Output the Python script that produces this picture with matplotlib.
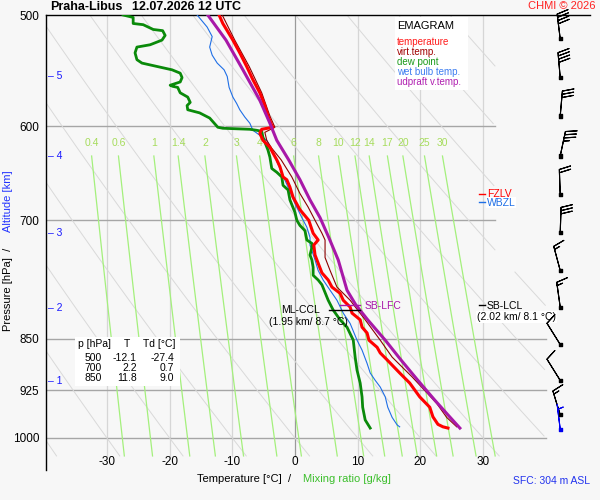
import numpy as np
import matplotlib.pyplot as plt
from matplotlib.patches import Rectangle
from matplotlib.ticker import NullLocator

plt.rcParams['font.family'] = ['Liberation Sans', 'DejaVu Sans']

# ---- sounding Praha-Libus, 12.07.2026 12 UTC ----
temp_p = [500, 507, 521, 532, 544, 556, 568, 580, 590, 599, 601, 603, 607, 614, 621,
          627, 634, 641, 652, 655, 663, 674, 688, 700, 715, 723, 729, 741, 751, 763,
          772, 781, 789, 798, 807, 815, 824, 834, 842, 852, 862, 870, 880, 899, 914,
          935, 951, 966, 978, 982, 984]
temp_t = [-12.1, -11.5, -9.9, -8.8, -7.7, -6.7, -5.6, -4.8, -4.3, -3.7, -3.5, -5.3, -5.6, -5.1, -4.0,
          -3.5, -2.9, -2.4, -1.9, -1.3, -0.8, -0.3, 0.8, 2.2, 2.9, 3.7, 3.0, 3.2, 3.7, 4.3,
          5.3, 5.9, 7.2, 7.7, 8.8, 9.1, 10.4, 10.7, 11.5, 11.8, 13.1, 13.6, 14.7, 16.7, 18.3,
          19.9, 21.5, 22.0, 22.8, 23.6, 24.4]

virt_p = [500, 521, 544, 568, 590, 601, 606, 614, 622, 634, 652, 670, 685, 700, 715,
          723, 744, 760, 781, 798, 811, 824, 852, 876, 905, 945, 967, 982]
virt_t = [-11.6, -9.6, -7.3, -5.3, -4.0, -3.2, -4.8, -4.5, -3.7, -2.2, -0.5, 0.8, 2.1, 3.2, 4.3,
          4.8, 4.8, 5.6, 6.7, 8.8, 10.0, 11.2, 13.6, 15.5, 18.7, 22.6, 24.2, 25.8]

dew_p = [500, 502, 507, 508, 512, 513, 517, 521, 525, 527, 532, 538, 541, 544, 547,
         550, 554, 558, 561, 562, 563, 568, 572, 577, 580, 584, 587, 592, 601, 602,
         603, 604, 605, 611, 624, 631, 643, 647, 652, 661, 666, 677, 691, 700, 706,
         712, 723, 727, 732, 741, 747, 756, 766, 772, 778, 798, 811, 824, 834, 852,
         876, 895, 914, 935, 951, 971, 984]
dew_t = [-27.4, -25.8, -25.8, -24.2, -22.6, -21.1, -20.7, -21.2, -23.1, -25.2, -25.5, -25.2, -24.4, -22.0, -19.6,
         -18.3, -18.0, -18.3, -19.9, -19.5, -18.7, -18.3, -17.1, -16.7, -17.2, -17.1, -15.2, -13.6, -12.3, -11.5,
         -7.2, -6.1, -5.3, -5.1, -4.3, -4.0, -3.7, -2.9, -2.1, -1.9, -1.1, -0.8, 0.0, 0.3, 0.8,
         1.6, 1.9, 2.7, 2.7, 2.4, 2.7, 2.9, 2.9, 3.7, 4.3, 5.3, 6.1, 7.2, 8.3, 9.3,
         9.6, 9.9, 10.4, 10.7, 10.8, 11.2, 12.0]

wet_p = [500, 510, 518, 527, 534, 541, 547, 553, 563, 572, 578, 584, 591, 597, 604,
         614, 631, 648, 663, 681, 697, 708, 720, 729, 747, 760, 772, 785, 798, 815,
         829, 852, 866, 885, 899, 910, 920, 935, 951, 967, 979, 982]
wet_t = [-15.6, -14.0, -13.2, -13.6, -13.2, -12.4, -11.3, -10.8, -10.5, -9.9, -9.3, -8.8, -8.0, -7.2, -6.7,
         -4.5, -3.2, -2.1, -1.1, 0.0, 1.1, 1.9, 2.4, 2.4, 3.2, 3.7, 4.5, 5.6, 6.7, 7.7,
         8.8, 9.9, 10.7, 11.5, 12.0, 12.8, 13.6, 14.4, 14.8, 15.5, 16.3, 16.7]

updraft_p = [500, 521, 547, 575, 597, 614, 634, 655, 677, 697, 720, 747, 785, 804, 824,
             852, 880, 910, 940, 963, 984]
updraft_t = [-13.9, -11.0, -8.3, -5.6, -4.0, -2.9, -1.0, 0.8, 2.4, 4.0, 5.4, 6.9, 8.3, 9.7, 11.6,
             14.4, 16.9, 19.6, 22.3, 24.4, 26.3]

# wind profile
wind_p = [520, 554, 590, 630, 671, 714, 760, 807, 858, 910, 963, 986]
wind_dir = [353, 355, 5, 12, 358, 2, 345, 352, 328, 328, 343, 353]
wind_spd = [40, 40, 30, 35, 20, 30, 15, 15, 10, 10, 15, 5]

# summary table
table_p = [500, 700, 850]
table_t = [-12.1, 2.2, 11.8]
table_td = [-27.4, 0.7, 9.0]

# altitude marks [km] and pressure where they sit
alt_km = [1, 2, 3, 4, 5]
alt_p = [911, 808, 715, 630, 553]

# diagram background
p_levels = [600, 700, 850, 925, 1000]
isotherms = [-30, -20, -10, 0, 10, 20, 30]
theta_c = list(range(-40, 101, 10))
mix_ratio = [0.4, 0.6, 1, 1.4, 2, 3, 4, 6, 8, 10, 12, 14, 17, 20, 25, 30]
mix_label = ['0.4', '0.6', '1', '1.4', '2', '3', '4', '6', '8', '10', '12', '14', '17', '20', '25', '30']

BG = '#f7f7f7'


def fx(px):
    return px / 600


def fy(py):
    return 1 - py / 500


fig = plt.figure(figsize=(6, 5), dpi=100, facecolor=BG)
ax = fig.add_axes([fx(46), fy(470), fx(590) - fx(46), fy(15) - fy(470)])
ax.set_facecolor(BG)
ax.set_yscale('log')
ax.set_xlim(-39.7, 47.05)
ax.set_ylim(1054, 500)

ax.set_yticks([500] + p_levels)
ax.set_yticklabels([str(p) for p in [500] + p_levels])
ax.yaxis.set_minor_locator(NullLocator())
ax.tick_params(axis='y', length=0, pad=5, labelsize=8.5)
ax.set_xticks([])
for s in ['right', 'bottom']:
    ax.spines[s].set_visible(False)
for s in ['left', 'top']:
    ax.spines[s].set_color('black')
    ax.spines[s].set_linewidth(1.0)

# isotherms
for t in isotherms:
    ax.plot([t, t], [500, 1030], color='#9a9a9a' if t == 0 else '#d6d6d6', lw=0.9, zorder=1)
    ax.text(t, 1040, str(t), ha='center', va='center', fontsize=8.5)

# isobars
for p in p_levels:
    right = 31.9 if p < 800 else 40
    ax.plot([-39.7, right], [p, p], color='#a6a6a6', lw=1.0, zorder=1)

# dry adiabats
pp = np.geomspace(500, 1030, 200)
for th in theta_c:
    tt = (th + 273.15) * (pp / 1000) ** 0.286 - 273.15
    tt[(tt > 40) | ((tt > 31.9) & (pp < 760))] = np.nan
    ax.plot(tt, pp, color='#d9d9d9', lw=0.7, zorder=1)

# saturation mixing ratio lines
pm = np.geomspace(630, 1030, 60)
for w, lab in zip(mix_ratio, mix_label):
    e = w * pm / (622 + w)
    le = np.log(e / 6.112)
    td = 243.5 * le / (17.67 - le)
    ax.plot(td, pm, color='#a4f07c', lw=0.9, zorder=2)
    ax.text(td[0], 617, lab, ha='center', va='center', fontsize=7.5, color='#a6dc5c', zorder=2)

# profiles
ax.plot(wet_t, wet_p, color='#1f6fe6', lw=0.8, zorder=5)
ax.plot(dew_t, dew_p, color='#0a8a0a', lw=2.0, zorder=6)
ax.plot(virt_t, virt_p, color='#8b0000', lw=0.8, zorder=7)
ax.plot(temp_t, temp_p, color='#ff0000', lw=2.2, zorder=8)
ax.plot(updraft_t, updraft_p, color='#a818a8', lw=2.2, zorder=9)

# altitude marks
ytr = ax.get_yaxis_transform()
for k, p in zip(alt_km, alt_p):
    ax.text(0.004, p, f'\u2013 {k}', transform=ytr, color='#1a1aff', fontsize=7.5,
            ha='left', va='center')

# level annotations
ax.plot([5.4, 10.4], [811, 811], color='black', lw=1.0, zorder=10)
ax.text(4.0, 811, 'ML-CCL', ha='right', va='center', fontsize=7.5, zorder=10)
ax.text(2.1, 827, '(1.95 km/ 8.7 °C)', ha='center', va='center', fontsize=7.5, zorder=10)
ax.plot([7.2, 10.4], [804, 804], color='#a818a8', lw=1.0, zorder=10)
ax.text(11.1, 805, 'SB-LFC', ha='left', va='center', fontsize=7.5, color='#a818a8', zorder=10)
ax.plot([29.4, 30.3], [804, 804], color='black', lw=1.0, zorder=10)
ax.text(30.6, 805, 'SB-LCL', ha='left', va='center', fontsize=7.5, zorder=10)
ax.text(29.0, 820, '(2.02 km/ 8.1 °C)', ha='left', va='center', fontsize=7.5, zorder=10,
        bbox=dict(facecolor='white', edgecolor='none', pad=0.5))
ax.plot([29.4, 30.3], [671, 671], color='red', lw=1.0, zorder=10)
ax.text(30.6, 671, 'FZLV', ha='left', va='center', fontsize=7.5, color='red', zorder=10)
ax.plot([29.4, 30.3], [679, 679], color='#1f6fe6', lw=1.0, zorder=12)
ax.text(30.6, 680, 'WBZL', ha='left', va='center', fontsize=7.5, color='#1f6fe6', zorder=11,
        bbox=dict(facecolor='white', edgecolor='none', pad=0.6))

# wind barbs
spd = np.array(wind_spd, dtype=float)
rad = np.radians(wind_dir)
wu = -spd * np.sin(rad)
wv = -spd * np.cos(rad)
wcol = ['black'] * (len(wind_p) - 1) + ['#0000ee']
wx = np.full(len(wind_p), 42.3)
ax.barbs(wx, wind_p, wu, wv, length=6, linewidth=0.8, barbcolor=wcol, flagcolor=wcol,
         sizes=dict(height=0.45, spacing=0.13), fill_empty=False, clip_on=False, zorder=10)
ax.scatter(wx, wind_p, marker='s', s=5, c=wcol, zorder=11, clip_on=False)

# legend box
fig.add_artist(Rectangle((fx(395), fy(90)), fx(468) - fx(395), fy(17) - fy(90),
                         transform=fig.transFigure, facecolor='white', edgecolor='none', zorder=2))
fig.text(fx(397), fy(26), 'EMAGRAM', fontsize=8, va='center', zorder=3)
legend_items = [('temperature', '#ff1a1a'), ('virt.temp.', '#a00000'), ('dew point', '#1a9a1a'),
                ('wet bulb temp.', '#3d7df0'), ('udpraft v.temp.', '#b020b0')]
for i, (lab, col) in enumerate(legend_items):
    fig.text(fx(397), fy(42 + 10 * i), lab, fontsize=7, color=col, va='center', zorder=3)

# summary table
fig.add_artist(Rectangle((fx(75), fy(386)), fx(180) - fx(75), fy(337) - fy(386),
                         transform=fig.transFigure, facecolor='white', edgecolor='none', zorder=2))
fig.text(fx(78), fy(344), 'p [hPa]', fontsize=7.5, va='center', zorder=3)
fig.text(fx(127), fy(344), 'T', fontsize=7.5, va='center', ha='center', zorder=3)
fig.text(fx(143), fy(344), 'Td [°C]', fontsize=7.5, va='center', zorder=3)
for i, (p, t, td) in enumerate(zip(table_p, table_t, table_td)):
    y = fy(358 + 10 * i)
    fig.text(fx(102), y, str(p), fontsize=7.5, va='center', ha='right', zorder=3)
    fig.text(fx(137), y, f'{t:.1f}', fontsize=7.5, va='center', ha='right', zorder=3)
    fig.text(fx(174), y, f'{td:.1f}', fontsize=7.5, va='center', ha='right', zorder=3)

# titles and axis labels
fig.text(fx(50), fy(7), 'Praha-Libus', fontsize=9, fontweight='bold', va='center')
fig.text(fx(132), fy(7), '12.07.2026 12 UTC', fontsize=9, fontweight='bold', va='center')
fig.text(fx(596), fy(6), 'CHMI © 2026', fontsize=8, color='#ff2222', ha='right', va='center')
fig.text(fx(8), fy(289), 'Pressure [hPa]  /', rotation=90, fontsize=8, ha='center', va='center')
fig.text(fx(8), fy(201), 'Altitude [km]', rotation=90, fontsize=8, ha='center', va='center',
         color='#2233ff')
fig.text(fx(197), fy(479), 'Temperature [°C]  /', fontsize=8, va='center')
fig.text(fx(303), fy(479), 'Mixing ratio [g/kg]', fontsize=8, va='center', color='#3cbf2c')
fig.text(fx(590), fy(481), 'SFC: 304 m ASL', fontsize=7.5, color='#2233ee', ha='right', va='center')

fig.savefig('out.png', dpi=100, facecolor=BG)
